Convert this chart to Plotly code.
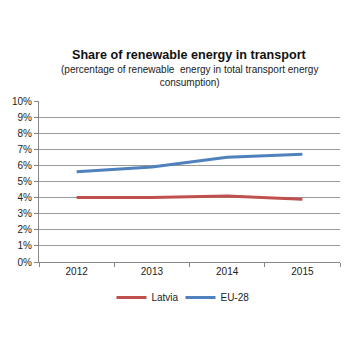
import plotly.graph_objects as go

years = ["2012", "2013", "2014", "2015"]
latvia = [4.0, 4.0, 4.1, 3.9]
eu28 = [5.6, 5.9, 6.5, 6.7]
y_ticks = [0, 1, 2, 3, 4, 5, 6, 7, 8, 9, 10]
y_labels = [f"{v}%" for v in y_ticks]

FONT = "Liberation Sans, Arial, sans-serif"

fig = go.Figure()
fig.add_trace(go.Scatter(x=years, y=latvia, name="Latvia", mode="lines",
                         line=dict(color="#C0504D", width=3)))
fig.add_trace(go.Scatter(x=years, y=eu28, name="EU-28", mode="lines",
                         line=dict(color="#4F81BD", width=3)))

fig.update_layout(
    width=360, height=338,
    margin=dict(l=36, r=20, t=101, b=76),
    paper_bgcolor="white", plot_bgcolor="white",
    font=dict(family=FONT, size=10, color="#222"),
    showlegend=True,
    legend=dict(orientation="h", x=0.47, xanchor="center", y=-0.13, yanchor="top",
                font=dict(size=10), itemwidth=30, tracegroupgap=0,
                entrywidth=24, entrywidthmode="pixels"),
    xaxis=dict(type="category", tickson="boundaries", ticks="outside", ticklen=4,
               tickcolor="#888", showline=True, linecolor="#888", linewidth=1,
               showgrid=False, range=[-0.5, 3.5], tickfont=dict(size=10)),
    yaxis=dict(range=[0, 10], tickvals=y_ticks, ticktext=y_labels, ticks="outside",
               ticklen=4, tickcolor="#888", showline=True, linecolor="#888",
               showgrid=True, gridcolor="#999999", gridwidth=1, zeroline=False,
               tickfont=dict(size=10)),
)

fig.add_annotation(text="<b>Share of renewable energy in transport</b>",
                   xref="paper", yref="paper", x=0.5, y=(338-55-76)/161, xanchor="center",
                   yanchor="middle", showarrow=False, font=dict(size=12.6, color="#111"))
fig.add_annotation(text="(percentage of renewable  energy in total transport energy<br>consumption)",
                   xref="paper", yref="paper", x=0.5, y=(338-75.5-76)/161, xanchor="center",
                   yanchor="middle", showarrow=False, font=dict(size=10, color="#222"))

fig.write_html("out.html")
